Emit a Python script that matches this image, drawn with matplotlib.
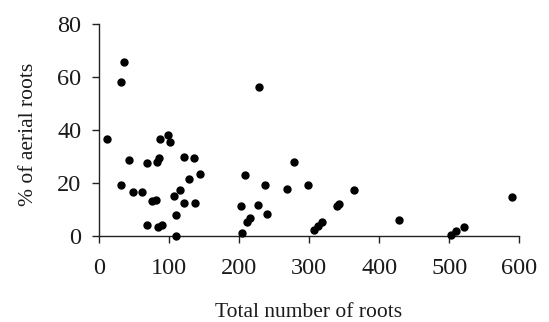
import matplotlib
matplotlib.use("Agg")
import matplotlib.pyplot as plt

# Values
total_roots = [10.5, 34.8, 31, 42, 31.5, 47.7, 60.5, 68.6, 68, 74.8,
               81.5, 82.9, 85.3, 86.7, 83.4, 89.1, 97.7, 101, 106.3, 115.3,
               109.1, 110, 121, 120.6, 128.1, 134.9, 137.1, 144.3, 203.4, 202.9,
               208.6, 211.4, 214.9, 227.1, 228.6, 236.3, 240, 268.6, 278.6, 298.1,
               306.7, 312.9, 317.7, 339, 342, 363.9, 427.7, 502.4, 509.6, 520.6,
               590]
aerial_pct = [36.5, 65.7, 58, 28.6, 19.1, 16.6, 16.6, 27.5, 4.3, 13.3,
              13.6, 27.9, 29.3, 36.7, 3.4, 4.3, 38.1, 35.5, 15.0, 17.2,
              8.0, 0.0, 29.7, 12.3, 21.6, 29.5, 12.3, 23.5, 1.2, 11.2,
              23, 5.4, 6.7, 11.8, 56.1, 19.4, 8.2, 17.8, 27.9, 19.2,
              2.1, 3.9, 5.4, 11.4, 12.1, 17.5, 6.2, 0.4, 1.9, 3.5,
              14.8]

x_ticks = [0, 100, 200, 300, 400, 500, 600]
y_ticks = [0, 20, 40, 60, 80]

plt.rcParams['font.family'] = ['Liberation Serif', 'DejaVu Serif']

fig = plt.figure(figsize=(5.49, 3.22), dpi=100)
ax = fig.add_axes([0.181, 0.267, 0.765, 0.658])

ax.scatter(total_roots, aerial_pct, s=25, color='black', zorder=3, clip_on=False)

ax.set_xlim(0, 600)
ax.set_ylim(0, 80)
ax.set_xticks(x_ticks)
ax.set_yticks(y_ticks)

for side in ['top', 'right']:
    ax.spines[side].set_visible(False)
for side in ['left', 'bottom']:
    ax.spines[side].set_linewidth(1.0)
    ax.spines[side].set_color('#222222')

ax.tick_params(direction='out', length=5, width=1.0, color='#222222',
               labelsize=17.5, labelcolor='#1a1a1a')
ax.tick_params(axis='y', pad=8)
ax.tick_params(axis='x', pad=11)

ax.set_xlabel("Total number of roots", fontsize=15.5, color='#1a1a1a')
ax.set_ylabel("% of aerial roots", fontsize=15.5, color='#1a1a1a')
ax.xaxis.set_label_coords(0.497, -0.315)
ax.yaxis.set_label_coords(-0.147, 0.48)

fig.savefig("out.png", dpi=100)
